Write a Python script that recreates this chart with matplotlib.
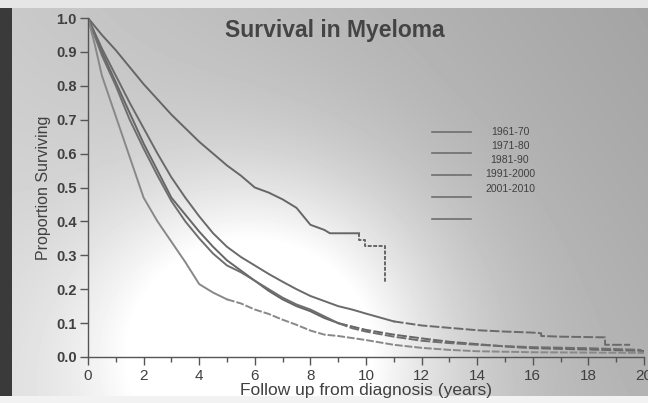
import numpy as np
import matplotlib
matplotlib.use("Agg")
import matplotlib.pyplot as plt
from matplotlib.patches import Rectangle

# ----- data (years, proportion surviving) -----
# repeated times mark the vertical drops of the Kaplan-Meier steps
t_a = [0, 0.5, 1, 1.5, 2, 2.5, 3, 3.5, 4, 4.5, 5, 5.5, 6, 6.5, 7, 7.5, 7.8, 8, 8.5,
       8.7, 9.75, 9.75, 9.95, 9.95, 10.7, 10.7]
s_a = [1.0, 0.95, 0.905, 0.855, 0.805, 0.76, 0.715, 0.675, 0.635, 0.60, 0.565, 0.535,
       0.50, 0.485, 0.465, 0.44, 0.41, 0.39, 0.375, 0.365, 0.365, 0.345, 0.345, 0.328,
       0.328, 0.218]

t_b = [0, 0.5, 1, 1.5, 2, 2.5, 3, 3.5, 4, 4.5, 5, 5.5, 6, 6.5, 7, 7.5, 8, 8.5, 9, 9.5,
       10, 11, 12, 13, 14, 15, 16, 16.3, 16.3, 17, 18.6, 18.6, 19.5]
s_b = [1.0, 0.91, 0.83, 0.75, 0.675, 0.60, 0.53, 0.47, 0.415, 0.365, 0.325, 0.295,
       0.27, 0.245, 0.222, 0.20, 0.18, 0.165, 0.15, 0.14, 0.128, 0.105, 0.093, 0.086,
       0.079, 0.075, 0.072, 0.07, 0.062, 0.06, 0.058, 0.036, 0.036]

t_c = [0, 0.5, 1, 1.5, 2, 2.5, 3, 3.5, 4, 4.5, 5, 5.5, 6, 6.5, 7, 7.5, 8, 8.5, 9, 9.5,
       10, 11, 12, 13, 14, 15, 16, 18, 20]
s_c = [1.0, 0.90, 0.81, 0.72, 0.63, 0.55, 0.47, 0.42, 0.37, 0.325, 0.285, 0.255, 0.225,
       0.195, 0.17, 0.15, 0.135, 0.115, 0.10, 0.09, 0.08, 0.066, 0.055, 0.045, 0.038,
       0.031, 0.026, 0.022, 0.018]

t_d = [0, 0.5, 1, 1.5, 2, 2.5, 3, 3.5, 4, 4.5, 5, 5.5, 6, 6.5, 7, 7.5, 8, 8.5, 9, 9.5,
       10, 11, 12, 13, 14, 15, 16, 18, 19.9]
s_d = [1.0, 0.89, 0.80, 0.70, 0.615, 0.535, 0.46, 0.40, 0.35, 0.305, 0.27, 0.25, 0.225,
       0.20, 0.175, 0.155, 0.14, 0.12, 0.10, 0.085, 0.075, 0.06, 0.048, 0.041, 0.036,
       0.032, 0.029, 0.026, 0.021]

t_e = [0, 0.25, 0.5, 1, 1.5, 2, 2.5, 3, 3.5, 4, 4.5, 5, 5.5, 6, 6.5, 7, 7.5, 8, 8.5, 9,
       9.5, 10, 11, 12, 13, 14, 16, 18, 20]
s_e = [1.0, 0.92, 0.83, 0.71, 0.59, 0.47, 0.40, 0.34, 0.28, 0.215, 0.19, 0.17, 0.158,
       0.14, 0.127, 0.11, 0.095, 0.078, 0.066, 0.062, 0.056, 0.05, 0.036, 0.027, 0.021,
       0.017, 0.014, 0.013, 0.012]

legend_labels = ["1961-70", "1971-80", "1981-90", "1991-2000", "2001-2010"]

fig = plt.figure(figsize=(6.48, 4.03), dpi=100)

# ----- photographed-slide background (gray with bright glare) -----
bg = fig.add_axes([0, 0, 1, 1])
xx, yy = np.meshgrid(np.arange(648), np.arange(403))
base = 0.79 - 0.15 * xx / 648 + 0.06 * yy / 403
glow = 0.36 * np.exp(-(((xx - 265) / 170) ** 2 + ((yy - 345) / 160) ** 2))
img = np.clip(base + glow, 0, 1)
bg.imshow(img, cmap="gray", vmin=0, vmax=1, extent=[0, 648, 403, 0], aspect="auto")
bg.add_patch(Rectangle((0, 8), 12, 388, color="#3a3a3a", lw=0))
bg.add_patch(Rectangle((0, 0), 648, 8, color="#e6e6e6", lw=0))
bg.add_patch(Rectangle((0, 396), 648, 7, color="#f2f2f2", lw=0))
bg.set_xlim(0, 648)
bg.set_ylim(403, 0)
bg.axis("off")

# ----- main plot -----
ax = fig.add_axes([88 / 648, 46 / 403, 556 / 648, 339 / 403])
ax.set_facecolor("none")

def km(t, s, color, cut, dash=(5, 1.2), lw=1.4):
    t = np.asarray(t)
    s = np.asarray(s)
    k = np.searchsorted(t, cut)
    ax.plot(t[:k + 1], s[:k + 1], color=color, lw=lw)
    if k < len(t) - 1:
        ax.plot(t[k:], s[k:], color=color, lw=lw, dashes=dash)

km(t_a, s_a, "#666666", 9.75, dash=(2, 0.8))
km(t_b, s_b, "#6a6a6a", 11)
km(t_c, s_c, "#666666", 9)
km(t_d, s_d, "#6e6e6e", 9)
km(t_e, s_e, "#888888", 5, dash=(4, 1))

ax.set_xlim(0, 20)
ax.set_ylim(0, 1.0)
for side in ["top", "right"]:
    ax.spines[side].set_visible(False)
for side in ["left", "bottom"]:
    ax.spines[side].set_color("#555555")
    ax.spines[side].set_linewidth(1.0)

ax.set_xticks(np.arange(0, 21, 2))
ax.set_xticks(np.arange(1, 20, 2), minor=True)
ax.set_yticks(np.arange(0, 1.01, 0.1))
ax.set_yticklabels([f"{v:.1f}" for v in np.arange(0, 1.01, 0.1)])
ax.tick_params(axis="both", which="major", direction="out", length=6, width=1.0,
               color="#555555", labelcolor="#404040")
ax.tick_params(axis="x", which="minor", direction="out", length=3.5, width=1.0,
               color="#555555")
ax.tick_params(axis="x", labelsize=11, pad=3)
ax.tick_params(axis="y", labelsize=10.5, pad=2)
for lab in ax.get_xticklabels():
    lab.set_fontfamily("Liberation Sans")
for lab in ax.get_yticklabels():
    lab.set_fontfamily("Liberation Sans")
    lab.set_fontweight("bold")

ax.set_xlabel("Follow up from diagnosis (years)", fontsize=12.5, color="#404040",
              family="Liberation Sans", labelpad=0)
ax.set_ylabel("Proportion Surviving", fontsize=11.5, color="#404040",
              family="Liberation Sans", labelpad=4)

fig.text(335 / 648, 1 - 30 / 403, "Survival in Myeloma", ha="center", va="center",
         fontsize=16.5, fontweight="bold", color="#444444", family="Liberation Sans")

# legend drawn as on the slide: short lines and a column of labels
leg_line_y = [132, 153, 175, 197, 219]
leg_text_y = [132, 146, 160, 174, 189]
for y in leg_line_y:
    bg.plot([432, 471], [y, y], color="#6e6e6e", lw=1.2)
for y, lab in zip(leg_text_y, legend_labels):
    bg.text(510, y, lab, ha="center", va="center", fontsize=7.5, color="#404040",
            family="Liberation Sans")

fig.savefig("out.png", dpi=100)
